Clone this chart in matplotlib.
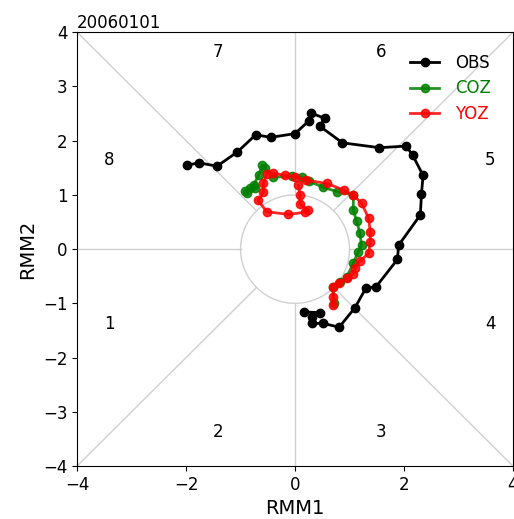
import matplotlib
matplotlib.use("Agg")
from matplotlib import pyplot as plt
import numpy as np

title = "20060101"

# observed RMM track
obs_rmm1 = [0.17, 0.45, 0.32, 0.31, 0.52, 0.81, 1.10, 1.30, 1.49, 1.88, 1.90, 2.30, 2.32,
            2.35, 2.16, 2.04, 1.55, 0.87, 0.45, 0.55, 0.29, 0.26, 0.0, -0.45, -0.72,
            -1.06, -1.43, -1.76, -1.98]
obs_rmm2 = [-1.16, -1.17, -1.25, -1.37, -1.37, -1.44, -1.08, -0.72, -0.69, -0.19, 0.07, 0.63, 1.01,
            1.36, 1.73, 1.90, 1.87, 1.96, 2.27, 2.41, 2.51, 2.37, 2.13, 2.06, 2.11,
            1.79, 1.53, 1.59, 1.55]

# COZ forecast
coz_rmm1 = [0.72, 0.70, 0.83, 0.95, 1.07, 1.16, 1.22, 1.19, 1.13, 1.07, 1.07, 0.77, 0.52,
            0.26, 0.12, -0.06, -0.40, -0.55, -0.60, -0.67, -0.76, -0.83, -0.92, -0.89, -0.73]
coz_rmm2 = [-1.00, -0.69, -0.60, -0.51, -0.26, -0.05, 0.07, 0.30, 0.52, 0.72, 1.00, 1.06, 1.14,
            1.25, 1.33, 1.34, 1.33, 1.49, 1.55, 1.36, 1.18, 1.12, 1.08, 1.04, 1.12]

# YOZ forecast
yoz_rmm1 = [0.70, 0.70, 0.69, 0.80, 0.95, 1.07, 1.10, 1.19, 1.35, 1.38, 1.38, 1.35, 1.22,
            1.07, 0.89, 0.59, 0.21, 0.0, -0.18, -0.40, -0.52, -0.58, -0.58, -0.68, -0.52,
            -0.12, 0.18, 0.24, 0.09, 0.09, 0.06]
yoz_rmm2 = [-1.03, -0.88, -0.70, -0.63, -0.54, -0.45, -0.35, -0.22, -0.08, 0.14, 0.32, 0.57, 0.85,
            0.99, 1.09, 1.21, 1.27, 1.33, 1.36, 1.40, 1.38, 1.22, 1.05, 0.90, 0.69,
            0.64, 0.68, 0.72, 0.83, 1.00, 1.18]

phase_labels = ["1", "2", "3", "4", "5", "6", "7", "8"]
phase_x = [-3.41, -1.41, 1.58, 3.58, 3.58, 1.58, -1.41, -3.41]
phase_y = [-1.38, -3.37, -3.37, -1.38, 1.64, 3.63, 3.63, 1.64]

fig = plt.figure(figsize=(5.14, 5.19), dpi=100)
ax = fig.add_axes([0.150, 0.102, 0.848, 0.836])

gc = "#d0d0d0"
# phase boundaries outside the unit circle
r = 1.0
d = r / np.sqrt(2)
ax.plot([-4, -d], [-4, -d], color=gc, lw=1, zorder=1)
ax.plot([d, 4], [d, 4], color=gc, lw=1, zorder=1)
ax.plot([-4, -d], [4, d], color=gc, lw=1, zorder=1)
ax.plot([d, 4], [-d, -4], color=gc, lw=1, zorder=1)
ax.plot([0, 0], [r, 4], color=gc, lw=1, zorder=1)
ax.plot([0, 0], [-4, -r], color=gc, lw=1, zorder=1)
ax.plot([-4, -r], [0, 0], color=gc, lw=1, zorder=1)
ax.plot([r, 4], [0, 0], color=gc, lw=1, zorder=1)
t = np.linspace(0, 2 * np.pi, 200)
ax.plot(r * np.cos(t), r * np.sin(t), color=gc, lw=1, zorder=1)

for lab, px, py in zip(phase_labels, phase_x, phase_y):
    ax.text(px, py, lab, ha="center", va="center", fontsize=12)

ax.plot(obs_rmm1, obs_rmm2, "-o", color="black", lw=2, ms=6, label="OBS", zorder=3)
ax.plot(coz_rmm1, coz_rmm2, "-o", color="green", lw=2, ms=6, label="COZ", alpha=0.85, zorder=4)
ax.plot(yoz_rmm1, yoz_rmm2, "-o", color="red", lw=2, ms=6, label="YOZ", alpha=0.85, zorder=5)

ax.set_xlim(-4, 4)
ax.set_ylim(-4, 4)
ax.set_xticks([-4, -2, 0, 2, 4])
ax.set_yticks([-4, -3, -2, -1, 0, 1, 2, 3, 4])
ax.tick_params(labelsize=12)
ax.set_xlabel("RMM1", fontsize=14)
ax.set_ylabel("RMM2", fontsize=14)
ax.set_title(title, loc="left", fontsize=12, pad=3)

leg = ax.legend(loc="upper right", frameon=False, fontsize=12,
                handlelength=1.7, handletextpad=1.0, borderaxespad=0.9,
                labelspacing=0.45)
for txt, c in zip(leg.get_texts(), ["black", "green", "red"]):
    txt.set_color(c)

fig.savefig("out.png", dpi=100)
